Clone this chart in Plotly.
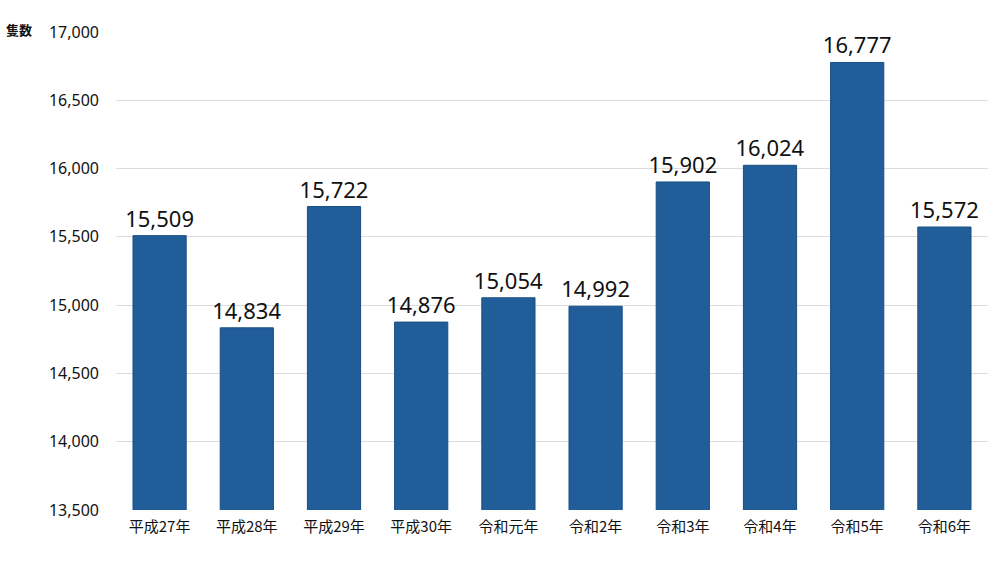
import plotly.graph_objects as go

categories = ["平成27年", "平成28年", "平成29年", "平成30年", "令和元年", "令和2年", "令和3年", "令和4年", "令和5年", "令和6年"]
values = [15509, 14834, 15722, 14876, 15054, 14992, 15902, 16024, 16777, 15572]
tick_vals = [13500, 14000, 14500, 15000, 15500, 16000, 16500, 17000]
tick_text = [f"{v:,}" for v in tick_vals]

font_family = "Noto Sans CJK JP, Noto Sans, sans-serif"

fig = go.Figure(go.Bar(
    x=categories, y=values,
    marker=dict(color="#215e99", line=dict(color="#1a4f85", width=1)),
    text=[f"{v:,}" for v in values],
    textposition="outside",
    constraintext="none",
    textfont=dict(size=22, color="#111111", family="Noto Sans, sans-serif"),
    cliponaxis=False,
))

fig.update_layout(
    width=1000, height=563,
    margin=dict(l=116, r=12, t=32, b=53),
    paper_bgcolor="white", plot_bgcolor="white",
    bargap=0.39,
    showlegend=False,
    font=dict(family=font_family, color="#111111"),
    xaxis=dict(tickfont=dict(size=15), showline=False, ticks="", ticklabelstandoff=6),
    yaxis=dict(range=[13500, 17000], tickvals=tick_vals, ticktext=tick_text,
               tickfont=dict(size=16, family="Noto Sans, sans-serif"),
               showgrid=True, gridcolor="#dcdcdc", gridwidth=1,
               zeroline=False, ticks="", ticklabelstandoff=16),
    annotations=[dict(text="<b>隻数</b>", x=0, y=1.0, xref="paper", yref="paper",
                      xshift=-112, yshift=3, showarrow=False, font=dict(size=13, family=font_family),
                      xanchor="left", yanchor="middle")],
)

fig.write_html("out.html")
